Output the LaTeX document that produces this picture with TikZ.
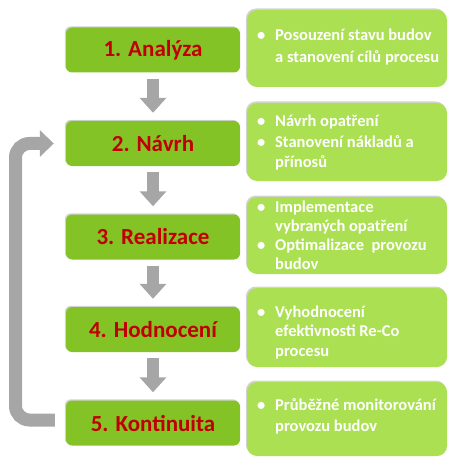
\documentclass[tikz,border=0pt]{standalone}
\usepackage{fontspec}
\setmainfont{Carlito}
\usetikzlibrary{arrows.meta,shadows}
\definecolor{stepgreen}{RGB}{132,195,38}
\definecolor{notegreen}{RGB}{170,224,82}
\definecolor{stepred}{RGB}{192,0,0}
\definecolor{arrowgray}{RGB}{166,166,166}
\newcommand\notetxt[2]{\parbox[t]{195pt}{\fontsize{16.5}{#1}\selectfont\bfseries\raggedright #2}}
\newcommand\bul{\makebox[18pt][l]{•}}
\newcommand\cnt{\hspace*{18pt}}
\tikzset{
 stepbox/.style={fill=stepgreen, rounded corners=6pt, minimum width=174pt, minimum height=45pt,
   inner sep=0pt, text=stepred, font=\fontsize{23}{26}\selectfont\bfseries,
   drop shadow={shadow xshift=-1.2pt, shadow yshift=1.2pt, opacity=0.35, fill=gray}},
 notebox/.style={fill=notegreen, rounded corners=10pt, minimum width=200pt, inner sep=0pt,
   drop shadow={shadow xshift=-1.2pt, shadow yshift=1.5pt, opacity=0.35, fill=gray}},
 notetext/.style={anchor=base west, inner sep=0pt, text=white},
 downarrow/.style={draw=arrowgray, line width=12pt, -{Triangle[width=26pt,length=15pt]},
   shorten <=6pt, shorten >=8pt},
 backarrow/.style={draw=arrowgray, line width=13pt, rounded corners=14pt,
   -{Triangle[width=26pt,length=14pt]}}
}
\begin{document}
\begin{tikzpicture}[x=1pt,y=-1pt]
\useasboundingbox (0,0) rectangle (448,457);
% right note boxes
\node[notebox, minimum height=77pt] (r1) at (347,48.5) {};
\node[notebox, minimum height=78pt] (r2) at (347,142) {};
\node[notebox, minimum height=77pt] (r3) at (347,235.5) {};
\node[notebox, minimum height=79pt] (r4) at (347,327.5) {};
\node[notebox, minimum height=74pt] (r5) at (347,419) {};
% left step boxes
\node[stepbox] (b1) at (153,50) {1. Analýza};
\node[stepbox] (b2) at (153,143.5) {2. Návrh};
\node[stepbox] (b3) at (153,237) {3. Realizace};
\node[stepbox] (b4) at (153,329.5) {4. Hodnocení};
\node[stepbox] (b5) at (153,423) {5. Kontinuita};
% note texts
\node[notetext] (t1) at (257,41) {\notetxt{22}{\bul Posouzení stavu budov\\ \cnt a stanovení cílů procesu}};
\node[notetext] (t2) at (257,127) {\notetxt{20.5}{\bul Návrh opatření\\ \bul Stanovení nákladů a\\ \cnt přínosů}};
\node[notetext] (t3) at (257,212) {\notetxt{19.3}{\bul Implementace\\ \cnt vybraných opatření\\ \bul Optimalizace\ \ provozu\\ \cnt budov}};
\node[notetext] (t4) at (257,317) {\notetxt{19.5}{\bul Vyhodnocení\\ \cnt efektivnosti Re-Co\\ \cnt procesu}};
\node[notetext] (t5) at (257,410) {\notetxt{21.5}{\bul Průběžné monitorování\\ \cnt provozu budov}};
% down arrows
\draw[downarrow] (b1.south) -- (b2.north);
\draw[downarrow] (b2.south) -- (b3.north);
\draw[downarrow] (b3.south) -- (b4.north);
\draw[downarrow] (b4.south) -- (b5.north);
% feedback arrow
\coordinate (lx) at (15.5,0);
\draw[backarrow] ([xshift=-11pt,yshift=3pt]b5.west) -| (lx |- b2.west) -- ([xshift=-12pt]b2.west);
\end{tikzpicture}
\end{document}
